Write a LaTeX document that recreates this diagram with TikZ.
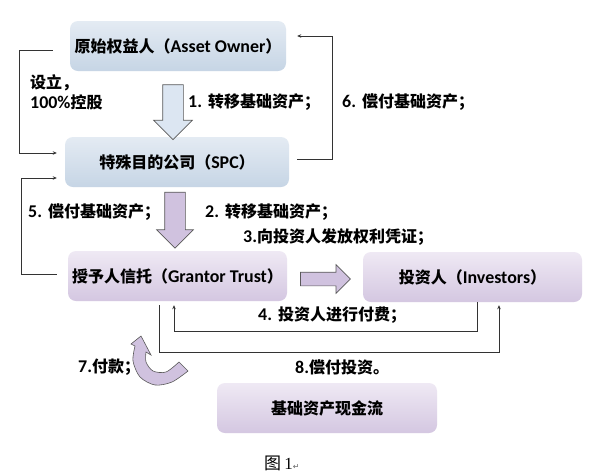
\documentclass[tikz,border=0pt]{standalone}
\usepackage{fontspec}
\setmainfont{Carlito}[Scale=1.12]
\newfontfamily\cjk{Noto Sans CJK SC}
\newfontfamily\serifnum{Liberation Serif}
\newfontfamily\symfont{DejaVu Sans}
\usetikzlibrary{arrows.meta,shapes.arrows}
\newcommand{\zh}[1]{{\cjk #1}}
\definecolor{blueTop}{HTML}{E4EBF3}
\definecolor{blueBot}{HTML}{C6D5E5}
\definecolor{lilaTop}{HTML}{EFE9F4}
\definecolor{lilaBot}{HTML}{D4C7E1}
\definecolor{arrowBlue}{HTML}{DCE6F2}
\definecolor{arrowLila}{HTML}{D0C2DF}
\definecolor{lineGray}{HTML}{333333}
\tikzset{
  box/.style={rounded corners=8pt, minimum width=219pt, minimum height=50pt, inner sep=0pt, font=\fontsize{16}{18}\selectfont\bfseries},
  kblue/.style={box, top color=blueTop, bottom color=blueBot},
  klila/.style={box, top color=lilaTop, bottom color=lilaBot},
  klabel/.style={anchor=west, inner sep=0pt, align=left, font=\fontsize{16}{20}\selectfont\bfseries},
  bigarrow/.style={single arrow, draw=black!65, line width=0.7pt, inner xsep=0pt, minimum width=0pt, single arrow tip angle=90},
  link/.style={-{Stealth[length=4pt, width=3.5pt]}, draw=lineGray, line width=0.8pt},
}

\begin{document}
\begin{tikzpicture}[x=1pt, y=-1pt]
    \fill[white] (0,0) rectangle (595,475);
    \useasboundingbox (0,0) rectangle (595,475);
    % boxes
    \node[kblue, minimum width=216pt] (owner) at (178,46) {\zh{原始权益人（}Asset Owner\zh{）}};
    \node[kblue, minimum width=224pt] (spc) at (177,162) {\zh{特殊目的公司（}SPC\zh{）}};
    \node[klila] (grantor) at (177.5,276) {\zh{授予人信托（}Grantor Trust\zh{）}};
    \node[klila] (investors) at (472.5,277) {\zh{投资人（}Investors\zh{）}};
    \node[klila, minimum width=220pt] (cash) at (327,408) {\zh{基础资产现金流}};
    % block arrows
    \node[bigarrow, fill=arrowBlue, rotate=-90, minimum height=55pt, inner ysep=10pt, single arrow head extend=9pt] (move1) at (173,107) {};
    \node[bigarrow, fill=arrowLila, rotate=-90, minimum height=56pt, inner ysep=10pt, single arrow head extend=8pt] (move2) at (175,215) {};
    \node[bigarrow, fill=arrowLila, minimum height=50pt, inner ysep=6.5pt, single arrow head extend=7.5pt] (issue) at (322,279) {};
    \filldraw[fill=arrowLila, draw=black!65, line width=0.6pt]
      (141,336) -- (151,355) -- (146,352)
      -- plot[smooth] coordinates {(146,352) (146,362) (153,371) (166,372) (179,362)}
      -- (188,371)
      -- plot[smooth] coordinates {(188,371) (172,382) (155,385) (140,377) (133,361) (135,346)}
      -- (131,344) -- cycle;
    % connectors
    \draw[link] ([xshift=-17pt, yshift=-4pt]owner.west) -- ++(-33,0) |- ([xshift=-8pt, yshift=9pt]spc.west);
    \draw[link] ([xshift=8pt, yshift=3pt]spc.east) -- ++(35,0) |- ([xshift=11pt, yshift=10pt]owner.east);
    \draw[link] ([xshift=-11pt, yshift=2pt]grantor.west) -- ++(-35,0) |- ([xshift=-8pt, yshift=-16pt]spc.west);
    \draw[link] ([xshift=4.5pt]investors.south) -- ++(0,29) -| ([xshift=-3.5pt, yshift=-4pt]grantor.south);
    \draw[link] ([xshift=-18.5pt, yshift=-4pt]grantor.south) -- ++(0,47) -| ([xshift=26.5pt, yshift=-3pt]investors.south);
    % labels
    \node[klabel] (setup) at (30,92) {\zh{设立，}\\100\%\zh{控股}};
    \node[klabel] (step1) at (188,102) {1.\hspace{6pt}\zh{转移基础资产；}};
    \node[klabel] (step6) at (342,102) {6.\hspace{6pt}\zh{偿付基础资产；}};
    \node[klabel] (step5) at (28,212) {5.\hspace{6pt}\zh{偿付基础资产；}};
    \node[klabel] (step2) at (205,212) {2.\hspace{6pt}\zh{转移基础资产；}};
    \node[klabel] (step3) at (243,237) {3.\zh{向投资人发放权利凭证；}};
    \node[klabel] (step4) at (258,315) {4.\hspace{6pt}\zh{投资人进行付费；}};
    \node[klabel] (step7) at (78,367) {7.\zh{付款；}};
    \node[klabel] (step8) at (295,367) {8.\zh{偿付投资。}};
    \node[anchor=west, inner sep=0pt, font=\fontsize{17}{18}\selectfont] (caption) at (264,463) {\zh{图}\,\serifnum 1{\symfont\fontsize{8}{8}\selectfont\color{black!60}↵}};
\end{tikzpicture}
\end{document}
